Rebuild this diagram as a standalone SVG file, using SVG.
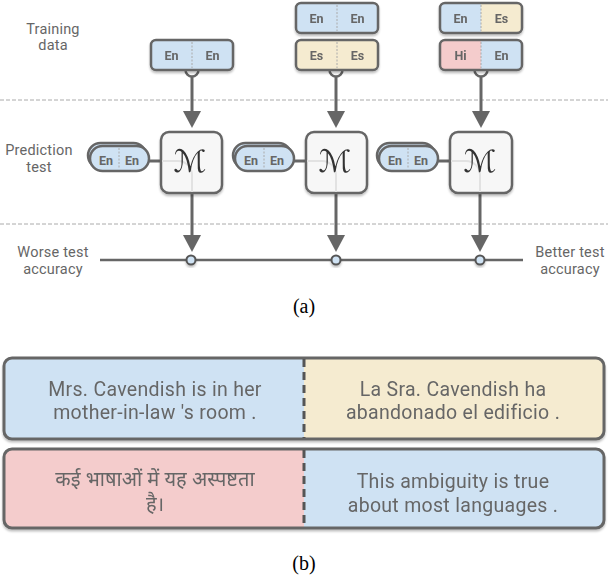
<svg xmlns="http://www.w3.org/2000/svg" width="608" height="578" viewBox="0 0 608 578">
<defs>
<filter id="sh" x="-10%" y="-10%" width="120%" height="140%">
<feDropShadow dx="0" dy="2" stdDeviation="1" flood-color="#000" flood-opacity="0.25"/>
</filter>
</defs>
<style>
.lbl{font-family:Roboto,"Liberation Sans",sans-serif;font-size:14.5px;letter-spacing:0.2px;fill:#666;text-anchor:middle}
.tag{font-family:Roboto,"DejaVu Sans",sans-serif;font-size:12.5px;font-weight:bold;fill:#666;text-anchor:middle}
.box{stroke:#666;stroke-width:2.5}
.blue{fill:#cfe2f3}
.beige{fill:#f5ebd0}
.pink{fill:#f4cccc}
.div{stroke:#aaa;stroke-width:1;stroke-dasharray:2,1.5}
.conn{stroke:#666;stroke-width:3;fill:none}
.head{fill:#666}
.grid{stroke:#aaa;stroke-width:1;stroke-dasharray:4,2}
.mbox{fill:#f7f7f7;stroke:#666;stroke-width:2.5}
.mg{font-family:"DejaVu Serif","DejaVu Sans",serif;font-size:31px;font-style:italic;fill:#333;text-anchor:middle}
.sent{font-family:Roboto,"Liberation Sans","Noto Sans Devanagari","Noto Sans",sans-serif;font-size:19.5px;letter-spacing:0.3px;fill:#666;text-anchor:middle}
.hin{font-family:"Noto Sans Devanagari","Noto Sans",sans-serif;font-size:20px;fill:#666;text-anchor:middle}
.cap{font-family:"Liberation Serif",serif;font-size:20px;fill:#000;text-anchor:middle}
</style>

<g id="guides">
<line class="grid" x1="0" y1="100" x2="608" y2="100"/>
<line class="grid" x1="0" y1="224" x2="608" y2="224"/>
</g>

<g id="labels">
<text class="lbl" x="53" y="34">Training</text>
<text class="lbl" x="53" y="50">data</text>
<text class="lbl" x="39" y="155">Prediction</text>
<text class="lbl" x="39" y="172">test</text>
<text class="lbl" x="53" y="257">Worse test</text>
<text class="lbl" x="53" y="274">accuracy</text>
<text class="lbl" x="570" y="257">Better test</text>
<text class="lbl" x="570" y="274">accuracy</text>
</g>

<g id="connectors">
<line x1="100" y1="260" x2="523" y2="260" stroke="#666" stroke-width="2.5"/>
<circle cx="192" cy="70" r="6.5" fill="#fff" stroke="#666" stroke-width="2.5"/>
<circle cx="336" cy="70" r="6.5" fill="#fff" stroke="#666" stroke-width="2.5"/>
<circle cx="481" cy="70" r="6.5" fill="#fff" stroke="#666" stroke-width="2.5"/>
<line class="conn" x1="192" y1="77" x2="192" y2="113"/>
<polygon class="head" points="183,111 201,111 192,128"/>
<line class="conn" x1="336" y1="77" x2="336" y2="113"/>
<polygon class="head" points="327,111 345,111 336,128"/>
<line class="conn" x1="481" y1="77" x2="481" y2="113"/>
<polygon class="head" points="472,111 490,111 481,128"/>
<line class="conn" x1="148" y1="161" x2="162" y2="161" stroke-width="2.5"/>
<line class="conn" x1="293" y1="161" x2="306" y2="161" stroke-width="2.5"/>
<line class="conn" x1="437" y1="161" x2="450" y2="161" stroke-width="2.5"/>
<line class="conn" x1="192" y1="193" x2="192" y2="237"/>
<polygon class="head" points="183,235 201,235 192,252"/>
<line class="conn" x1="336" y1="193" x2="336" y2="237"/>
<polygon class="head" points="327,235 345,235 336,252"/>
<line class="conn" x1="480" y1="193" x2="480" y2="237"/>
<polygon class="head" points="471,235 489,235 480,252"/>
<g filter="url(#sh)">
<circle cx="191" cy="260" r="4.5" fill="#cfe2f3" stroke="#555" stroke-width="2"/>
<circle cx="336" cy="260" r="4.5" fill="#cfe2f3" stroke="#555" stroke-width="2"/>
<circle cx="480" cy="260" r="4.5" fill="#cfe2f3" stroke="#555" stroke-width="2"/>
</g>
</g>

<g id="train1" filter="url(#sh)">
<rect class="box blue" x="151" y="40" width="82" height="30" rx="5"/>
<line class="div" x1="192" y1="42" x2="192" y2="68"/>
<text class="tag" x="171.5" y="59.5">En</text>
<text class="tag" x="212.5" y="59.5">En</text>
</g>

<g id="train2a" filter="url(#sh)">
<rect class="box blue" x="296" y="3" width="82" height="30" rx="5"/>
<line class="div" x1="337" y1="5" x2="337" y2="31"/>
<text class="tag" x="316.5" y="22.5">En</text>
<text class="tag" x="357.5" y="22.5">En</text>
</g>
<g id="train2b" filter="url(#sh)">
<rect class="box beige" x="296" y="40" width="82" height="30" rx="5"/>
<line class="div" x1="337" y1="42" x2="337" y2="68"/>
<text class="tag" x="316.5" y="59.5">Es</text>
<text class="tag" x="357.5" y="59.5">Es</text>
</g>

<g id="train3a" filter="url(#sh)">
<rect class="beige" x="440" y="3" width="82" height="30" rx="5"/>
<path class="blue" d="M481,3 H445 A5,5 0 0 0 440,8 V28 A5,5 0 0 0 445,33 H481 z"/>
<rect x="440" y="3" width="82" height="30" rx="5" fill="none" stroke="#666" stroke-width="2.5"/>
<line class="div" x1="481" y1="5" x2="481" y2="31"/>
<text class="tag" x="460.5" y="22.5">En</text>
<text class="tag" x="501.5" y="22.5">Es</text>
</g>
<g id="train3b" filter="url(#sh)">
<rect class="blue" x="440" y="40" width="82" height="30" rx="5"/>
<path class="pink" d="M481,40 H445 A5,5 0 0 0 440,45 V65 A5,5 0 0 0 445,70 H481 z"/>
<rect x="440" y="40" width="82" height="30" rx="5" fill="none" stroke="#666" stroke-width="2.5"/>
<line class="div" x1="481" y1="42" x2="481" y2="68"/>
<text class="tag" x="460.5" y="59.5">Hi</text>
<text class="tag" x="501.5" y="59.5">En</text>
</g>

<g id="pill1">
<rect class="box blue" x="88" y="143" width="58" height="25" rx="12.5"/>
<rect class="box blue" x="90" y="146" width="59" height="25" rx="12.5"/>
<line class="div" x1="119" y1="148" x2="119" y2="169"/>
<text class="tag" x="106" y="164.5">En</text>
<text class="tag" x="132" y="164.5">En</text>
</g>
<g id="pill2">
<rect class="box blue" x="233" y="143" width="58" height="25" rx="12.5"/>
<rect class="box blue" x="235" y="146" width="59" height="25" rx="12.5"/>
<line class="div" x1="264" y1="148" x2="264" y2="169"/>
<text class="tag" x="251" y="164.5">En</text>
<text class="tag" x="277" y="164.5">En</text>
</g>
<g id="pill3">
<rect class="box blue" x="377" y="143" width="58" height="25" rx="12.5"/>
<rect class="box blue" x="379" y="146" width="59" height="25" rx="12.5"/>
<line class="div" x1="408" y1="148" x2="408" y2="169"/>
<text class="tag" x="395" y="164.5">En</text>
<text class="tag" x="421" y="164.5">En</text>
</g>

<g id="model1" filter="url(#sh)">
<rect class="mbox" x="161" y="132" width="61" height="61" rx="8"/>
<path d="M162,161 H178 A14,14 0 0 1 192,175 V192" fill="none" stroke="#e2e2e2" stroke-width="2"/>
<text class="mg" x="190" y="172">ℳ</text>
</g>
<g id="model2" filter="url(#sh)">
<rect class="mbox" x="306" y="132" width="61" height="61" rx="8"/>
<path d="M307,161 H322 A14,14 0 0 1 336,175 V192" fill="none" stroke="#e2e2e2" stroke-width="2"/>
<text class="mg" x="335" y="172">ℳ</text>
</g>
<g id="model3" filter="url(#sh)">
<rect class="mbox" x="450" y="132" width="62" height="61" rx="8"/>
<path d="M451,161 H466 A14,14 0 0 1 480,175 V192" fill="none" stroke="#e2e2e2" stroke-width="2"/>
<text class="mg" x="480" y="172">ℳ</text>
</g>

<text class="cap" x="304" y="313">(a)</text>

<g id="row1" filter="url(#sh)">
<rect class="beige" x="4" y="358" width="600" height="81" rx="8"/>
<path class="blue" d="M304,358 H12 A8,8 0 0 0 4,366 V431 A8,8 0 0 0 12,439 H304 z"/>
<rect x="4" y="358" width="600" height="81" rx="8" fill="none" stroke="#666" stroke-width="3"/>
<line x1="304" y1="359" x2="304" y2="438" stroke="#555" stroke-width="3" stroke-dasharray="8,5"/>
<text class="sent" x="155" y="396">Mrs. Cavendish is in her</text>
<text class="sent" x="155" y="419">mother-in-law 's room .</text>
<text class="sent" x="453" y="396">La Sra. Cavendish ha</text>
<text class="sent" x="453" y="419">abandonado el edificio .</text>
</g>

<g id="row2" filter="url(#sh)">
<rect class="blue" x="4" y="449" width="600" height="79" rx="8"/>
<path class="pink" d="M304,449 H12 A8,8 0 0 0 4,457 V520 A8,8 0 0 0 12,528 H304 z"/>
<rect x="4" y="449" width="600" height="79" rx="8" fill="none" stroke="#666" stroke-width="3"/>
<line x1="304" y1="450" x2="304" y2="527" stroke="#555" stroke-width="3" stroke-dasharray="8,5"/>
<text class="hin" x="155" y="486">कई भाषाओं में यह अस्पष्टता</text>
<text class="hin" x="155" y="511">है।</text>
<text class="sent" x="453" y="488">This ambiguity is true</text>
<text class="sent" x="453" y="512">about most languages .</text>
</g>

<text class="cap" x="304" y="570">(b)</text>
</svg>
